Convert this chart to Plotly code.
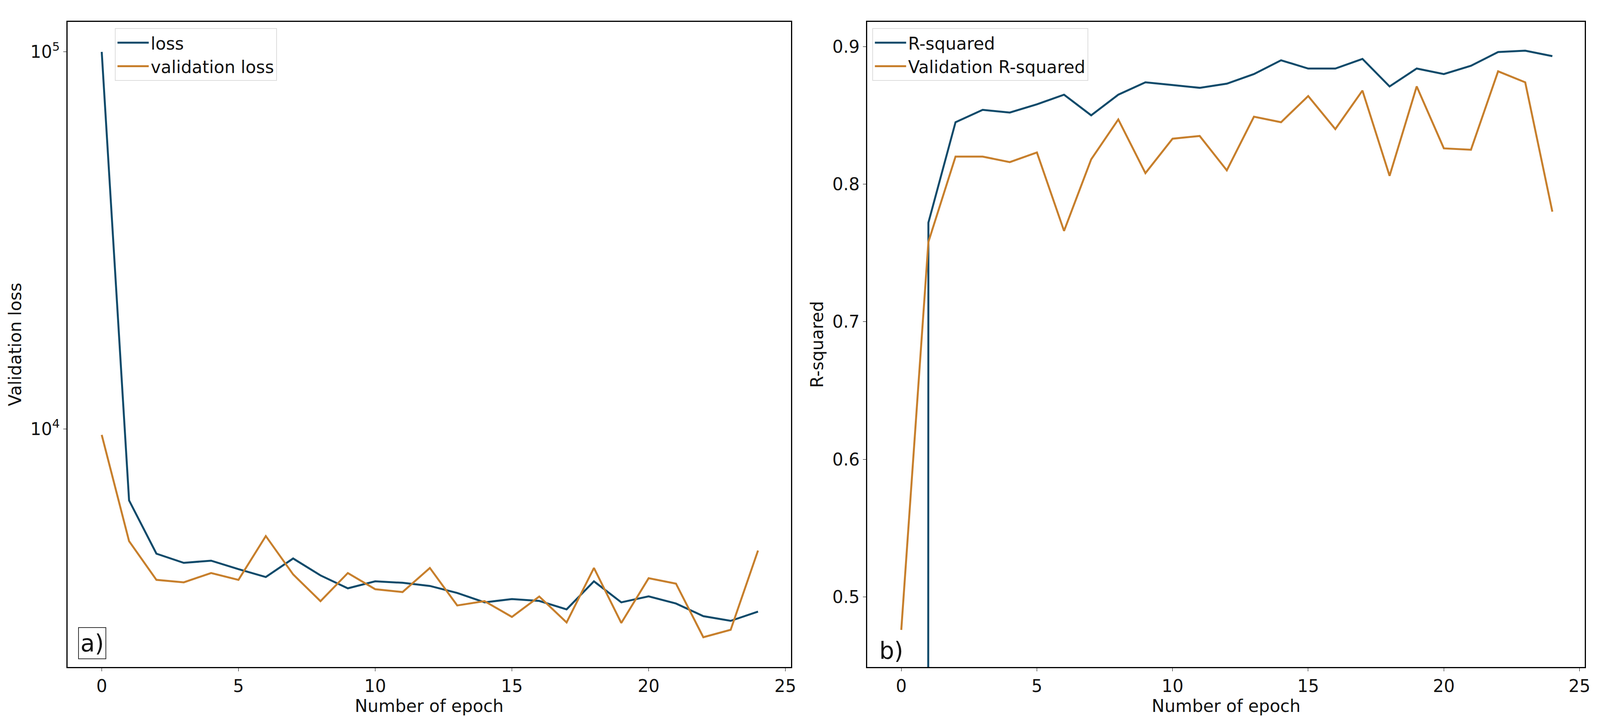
import plotly.graph_objects as go

epochs = list(range(25))
loss = [100000, 6460, 4665, 4410, 4470, 4245, 4045, 4530, 4085, 3775, 3940, 3905, 3830,
        3670, 3465, 3535, 3495, 3320, 3940, 3465, 3595, 3440, 3185, 3095, 3275]
val_loss = [9640, 5035, 3975, 3915, 4145, 3975, 5195, 4110, 3490, 4145, 3755, 3690, 4275,
            3400, 3490, 3170, 3590, 3065, 4275, 3055, 4015, 3885, 2800, 2930, 4755]
r2 = [-50.0, 0.772, 0.845, 0.854, 0.852, 0.858, 0.865, 0.850, 0.865, 0.874, 0.872, 0.870, 0.873,
      0.880, 0.890, 0.884, 0.884, 0.891, 0.871, 0.884, 0.880, 0.886, 0.896, 0.897, 0.893]
val_r2 = [0.476, 0.758, 0.820, 0.820, 0.816, 0.823, 0.766, 0.818, 0.847, 0.808, 0.833, 0.835, 0.810,
          0.849, 0.845, 0.864, 0.840, 0.868, 0.806, 0.871, 0.826, 0.825, 0.882, 0.874, 0.780]

BLUE = "#0f4a6a"
ORANGE = "#c77f2c"
FONT = dict(family="DejaVu Sans", size=44, color="#111")

fig = go.Figure()
fig.add_trace(go.Scatter(x=epochs, y=loss, mode="lines", name="loss",
                         line=dict(color=BLUE, width=5), xaxis="x", yaxis="y", legend="legend"))
fig.add_trace(go.Scatter(x=epochs, y=val_loss, mode="lines", name="validation loss",
                         line=dict(color=ORANGE, width=5), xaxis="x", yaxis="y", legend="legend"))
fig.add_trace(go.Scatter(x=epochs, y=r2, mode="lines", name="R-squared",
                         line=dict(color=BLUE, width=5), xaxis="x2", yaxis="y2", legend="legend2"))
fig.add_trace(go.Scatter(x=epochs, y=val_r2, mode="lines", name="Validation R-squared",
                         line=dict(color=ORANGE, width=5), xaxis="x2", yaxis="y2", legend="legend2"))

ax = dict(showline=True, mirror=True, linecolor="black", linewidth=3, showgrid=False,
          zeroline=False, ticks="outside", ticklen=8, tickcolor="black", tickfont=FONT)
fig.update_layout(
    autosize=True, paper_bgcolor="white", plot_bgcolor="white",
    margin=dict(l=0, r=0, t=0, b=0), font=FONT,
    xaxis=dict(ax, domain=[0.0404, 0.494], range=[-1.25, 25.2], tickvals=[0, 5, 10, 15, 20, 25],
               title=dict(text="Number of epoch", font=FONT, standoff=5), anchor="y"),
    yaxis=dict(ax, domain=[0.074, 0.974], type="log", range=[3.368, 5.08],
               tickvals=[1e4, 1e5], ticktext=["10<sup>4</sup>", "10<sup>5</sup>"],
               title=dict(text="Validation loss", font=FONT, standoff=10), anchor="x"),
    xaxis2=dict(ax, domain=[0.542, 0.992], range=[-1.25, 25.2], tickvals=[0, 5, 10, 15, 20, 25],
                title=dict(text="Number of epoch", font=FONT, standoff=5), anchor="y2"),
    yaxis2=dict(ax, domain=[0.074, 0.974], range=[0.449, 0.918],
                tickvals=[0.5, 0.6, 0.7, 0.8, 0.9],
                title=dict(text="R-squared", font=FONT, standoff=10), anchor="x2"),
    legend=dict(x=0.07, y=0.965, xanchor="left", yanchor="top", bgcolor="white",
                bordercolor="#ddd", borderwidth=2, font=FONT, itemwidth=80),
    legend2=dict(x=0.545, y=0.965, xanchor="left", yanchor="top", bgcolor="white",
                 bordercolor="#ddd", borderwidth=2, font=FONT, itemwidth=80),
    showlegend=True,
    annotations=[
        dict(text="a)", xref="paper", yref="paper", x=0.047, y=0.085, xanchor="left",
             yanchor="bottom", showarrow=False, font=dict(family="DejaVu Sans", size=60, color="#111"),
             bordercolor="#333", borderwidth=2, borderpad=4, bgcolor="white"),
        dict(text="b)", xref="paper", yref="paper", x=0.549, y=0.077, xanchor="left",
             yanchor="bottom", showarrow=False, font=dict(family="DejaVu Sans", size=60, color="#111")),
    ],
)
fig.write_html("out.html", default_width="100vw", default_height="100vh",
               config={"responsive": True})
